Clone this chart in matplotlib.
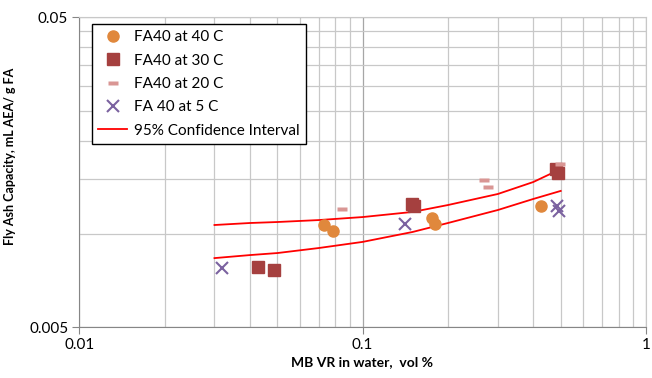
import numpy as np
import matplotlib
matplotlib.use("Agg")
import matplotlib.pyplot as plt
from matplotlib.path import Path
from matplotlib.ticker import FixedLocator, NullFormatter

plt.rcParams['font.family'] = ['Lato', 'DejaVu Sans']

# FA40 at 40 C
x40 = [0.0730, 0.0786, 0.1756, 0.180, 0.426]
y40 = [0.01069, 0.01023, 0.01127, 0.01077, 0.01231]
# FA40 at 30 C
x30 = [0.0427, 0.0486, 0.149, 0.152, 0.481, 0.489]
y30 = [0.00782, 0.00765, 0.01249, 0.01231, 0.0162, 0.01572]
# FA40 at 20 C
x20 = [0.0845, 0.268, 0.277, 0.497]
y20 = [0.01203, 0.01494, 0.01418, 0.01682]
# FA 40 at 5 C
x5 = [0.0319, 0.141, 0.485, 0.493]
y5 = [0.00777, 0.01077, 0.01231, 0.01186]

# 95% confidence band
ci_x = [0.03, 0.04, 0.05, 0.07, 0.1, 0.15, 0.2, 0.3, 0.4, 0.5]
ci_upper = [0.01069, 0.01085, 0.01093, 0.01109, 0.01134, 0.01178, 0.0124, 0.01346, 0.01471, 0.0162]
ci_lower = [0.00836, 0.00855, 0.00868, 0.00901, 0.00943, 0.01015, 0.01085, 0.01195, 0.01297, 0.01377]

# flat rectangle marker for the 20 C series
dash = Path([(-1, -0.4), (1, -0.4), (1, 0.4), (-1, 0.4), (-1, -0.4)],
            [Path.MOVETO, Path.LINETO, Path.LINETO, Path.LINETO, Path.CLOSEPOLY])

fig = plt.figure(figsize=(6.52, 3.78), dpi=100)
ax = fig.add_axes([0.1216, 0.1341, 0.8692, 0.8201])

ax.plot(x40, y40, 'o', color='#E0883C', ms=8, mec='#E0883C', label='FA40 at 40 C', zorder=3)
ax.plot(x30, y30, 's', color='#A5403F', ms=8, mec='#A5403F', label='FA40 at 30 C', zorder=3)
ax.plot(x20, y20, marker=dash, ls='none', color='#D99694', ms=7, mec='none',
        label='FA40 at 20 C', zorder=3)
ax.plot(x5, y5, 'x', color='#7B62A0', ms=8, mew=1.5, label='FA 40 at 5 C', zorder=3)
ax.plot(ci_x, ci_upper, '-', color='#FF0000', lw=1.3, label='95% Confidence Interval', zorder=2)
ax.plot(ci_x, ci_lower, '-', color='#FF0000', lw=1.3, zorder=2)

ax.set_xscale('log')
ax.set_yscale('log')
ax.set_xlim(0.01, 1)
ax.set_ylim(0.005, 0.05)

ax.xaxis.set_major_locator(FixedLocator([0.01, 0.1, 1]))
ax.xaxis.set_minor_locator(FixedLocator([m * d for d in (0.01, 0.1) for m in range(2, 10)]))
ax.set_xticklabels(['0.01', '0.1', '1'])
ax.xaxis.set_minor_formatter(NullFormatter())
ax.yaxis.set_major_locator(FixedLocator([0.005, 0.05]))
ax.yaxis.set_minor_locator(FixedLocator([0.005 * k for k in range(2, 10)]))
ax.set_yticklabels(['0.005', '0.05'])
ax.yaxis.set_minor_formatter(NullFormatter())

ax.grid(True, which='major', color='#A6A6A6', lw=0.9)
ax.grid(True, which='minor', color='#C8C8C8', lw=0.9)
ax.set_axisbelow(True)
ax.tick_params(which='major', direction='out', length=5, color='#868686',
               labelsize=11, pad=3)
ax.tick_params(which='minor', length=0)
for side in ('left', 'bottom'):
    ax.spines[side].set_color('#868686')
for side in ('top', 'right'):
    ax.spines[side].set_color('#C8C8C8')

ax.set_xlabel('MB VR in water,  vol %', fontsize=10, fontweight='bold')
ax.xaxis.set_label_coords(0.499, -0.093)
ax.set_ylabel('Fly Ash Capacity, mL AEA/ g FA', fontsize=9, fontweight='bold')
ax.yaxis.set_label_coords(-0.112, 0.55)

leg = ax.legend(loc='upper left', bbox_to_anchor=(0.0225, 0.978), fontsize=11,
                frameon=True, fancybox=False, edgecolor='black', framealpha=1,
                handlelength=1.9, labelspacing=0.61, borderpad=0.4, handletextpad=0.45,
                borderaxespad=0)
leg.get_frame().set_linewidth(1.0)

fig.savefig('out.png', dpi=100)
